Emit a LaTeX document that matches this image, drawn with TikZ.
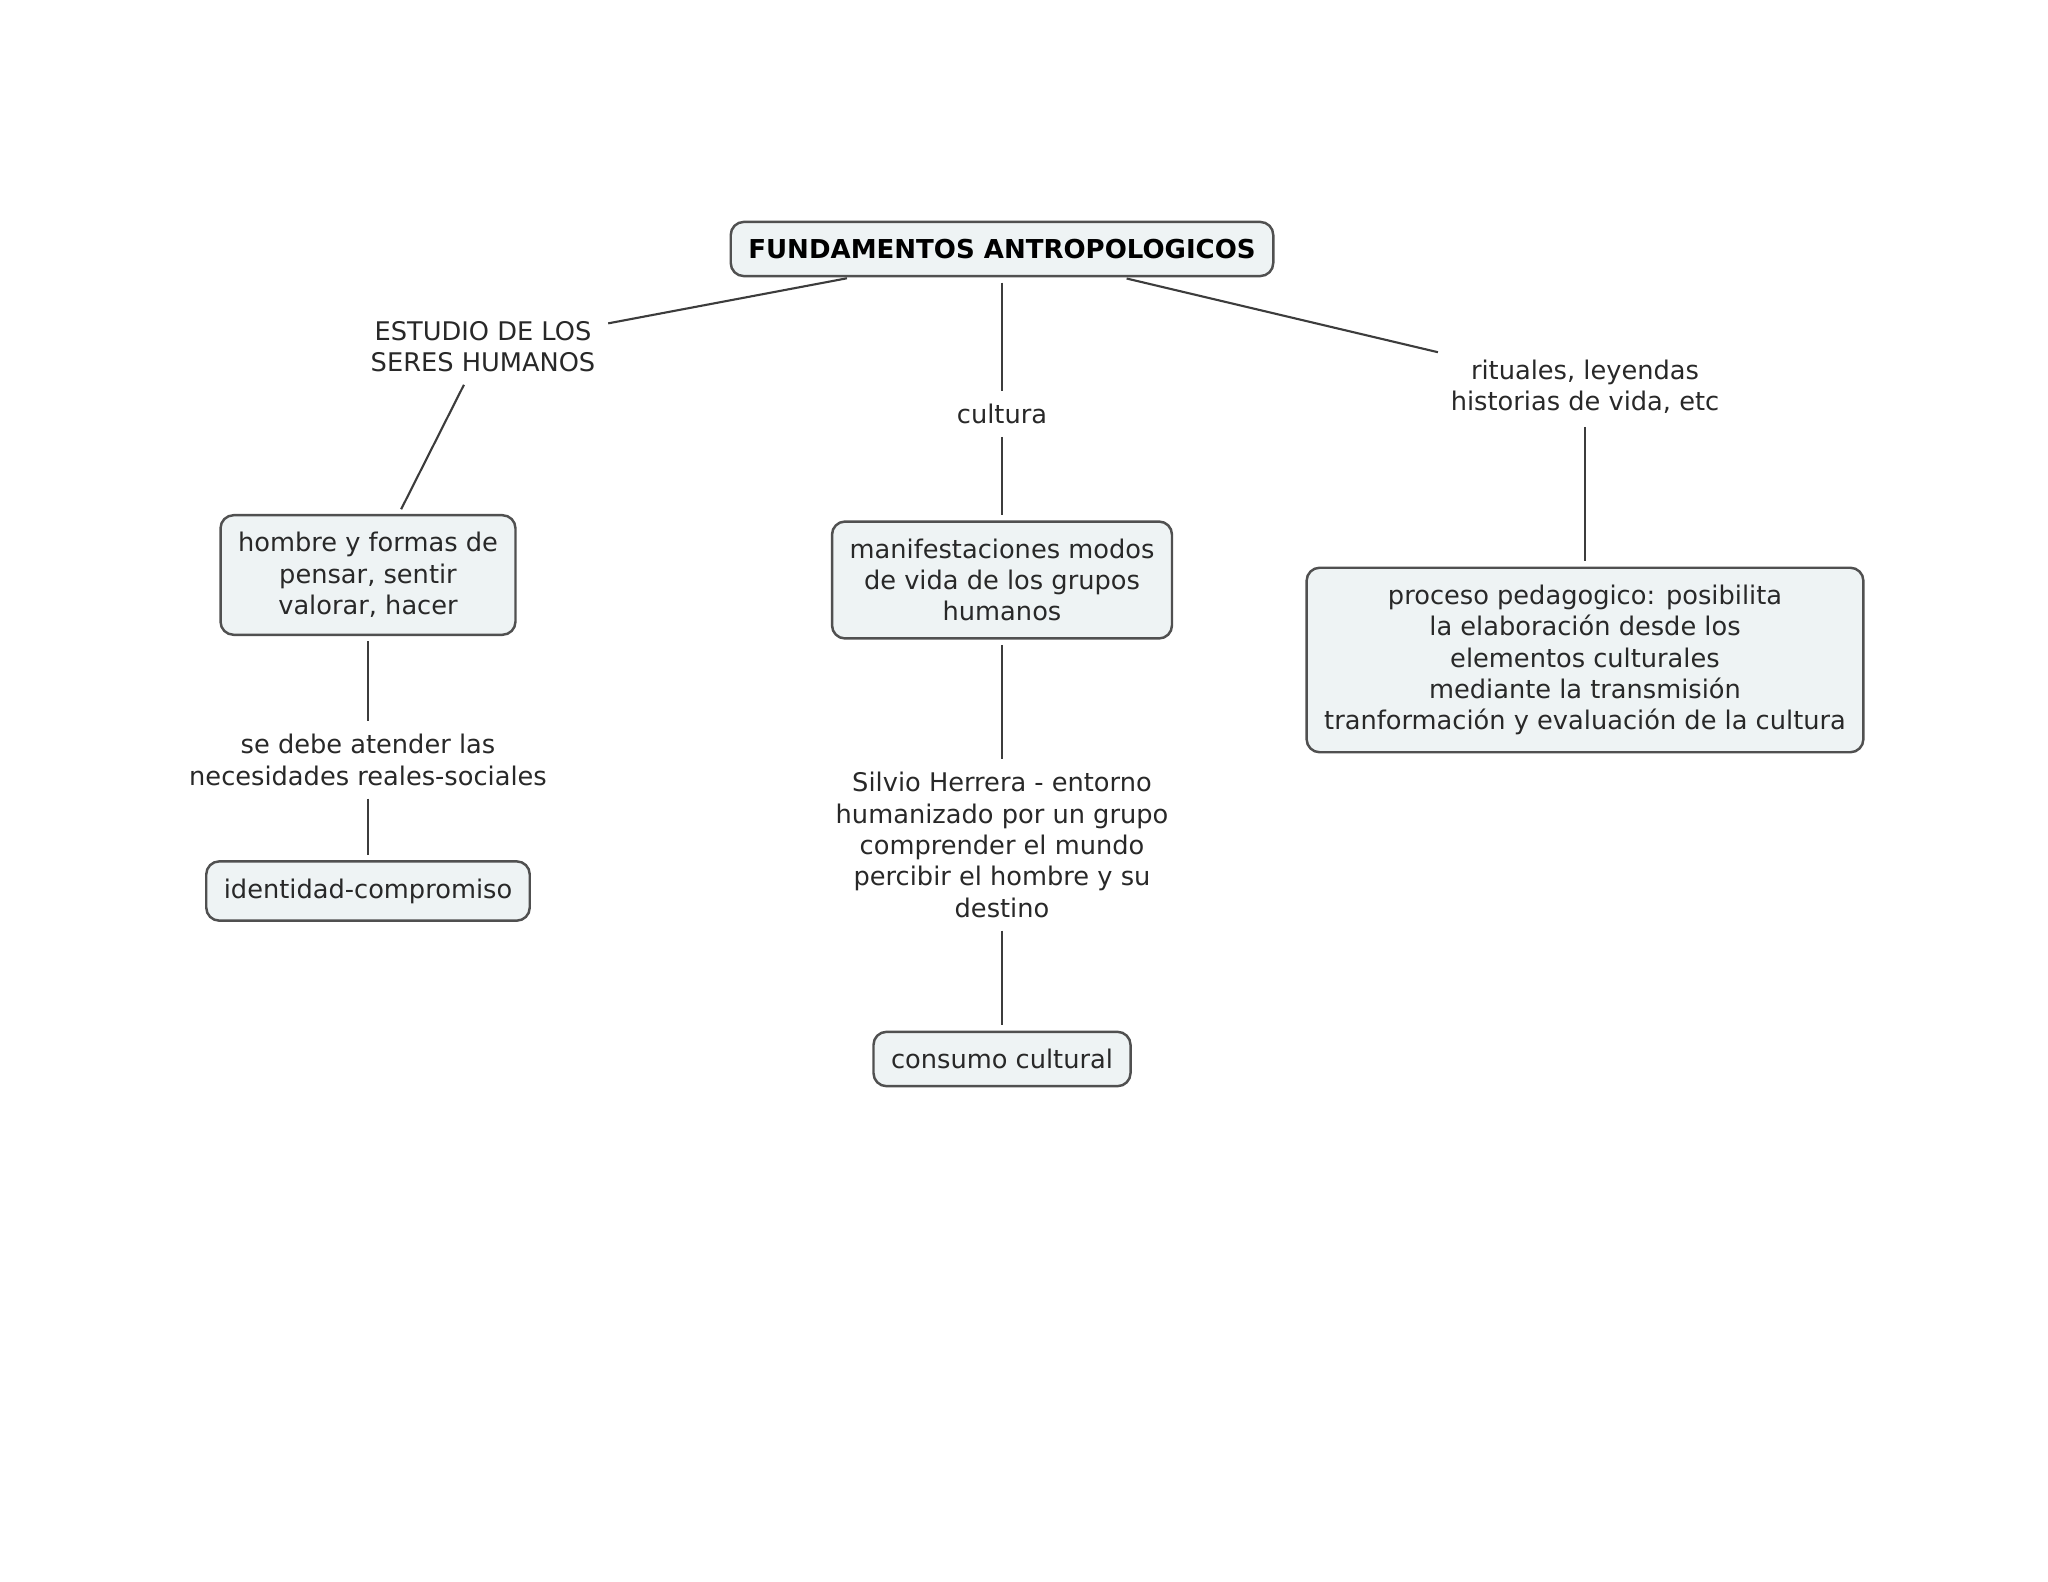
\documentclass[tikz,border=0pt]{standalone}
\usepackage{fontspec}
\setmainfont{DejaVu Sans}
\definecolor{boxfill}{RGB}{238,243,244}
\definecolor{boxline}{RGB}{80,80,80}
\definecolor{linkline}{RGB}{60,60,60}
\definecolor{inkgray}{RGB}{40,40,40}

\tikzstyle{concept}=[draw=boxline,fill=boxfill,line width=0.7pt,rounded corners=3.7pt,align=center,inner xsep=5pt,inner ysep=4.9pt,text=inkgray,font=\fontsize{7.3}{8.9}\selectfont]
\tikzstyle{title}=[concept,font=\fontsize{7.4}{8.9}\selectfont\bfseries,text=black]
\tikzstyle{linking}=[align=center,inner sep=2pt,text=inkgray,font=\fontsize{7.3}{8.9}\selectfont]
\tikzstyle{edge}=[draw=linkline,line width=0.6pt,-,shorten <=1.5pt,shorten >=1.5pt]

\begin{document}
\begin{tikzpicture}[x=0.01cm,y=-0.01cm]
      \useasboundingbox (0,0) rectangle (2048,1582);
      % concepts
      \node[title] (root) at (1002,249) {FUNDAMENTOS ANTROPOLOGICOS};
      \foreach \nodename/\x/\y/\txt in {
        hombre/368/575/{hombre y formas de\\pensar, sentir\\valorar, hacer},
        identidad/368/891/{identidad-compromiso},
        manif/1002/580/{manifestaciones modos\\de vida de los grupos\\humanos},
        consumo/1002/1059/{consumo cultural},
        proceso/1585/660/{proceso pedagogico: posibilita\\la elaboración desde los\\elementos culturales\\mediante la transmisión\\tranformación y evaluación de la cultura}}
      {
        \node[concept] (\nodename) at (\x,\y) {\txt};
      };
      % linking phrases
      \foreach \nodename/\x/\y/\txt in {
        estudio/483/347/{ESTUDIO DE LOS\\SERES HUMANOS},
        atender/368/760/{se debe atender las\\necesidades reales-sociales},
        cultura/1002/414/{cultura},
        silvio/1002/845/{Silvio Herrera - entorno\\humanizado por un grupo\\comprender el mundo\\percibir el hombre y su\\destino},
        rituales/1585/387/{rituales, leyendas\\historias de vida, etc}}
      {
        \node[linking] (\nodename) at (\x,\y) {\txt};
      };
      %edges
      \path
      \foreach \startnode/\endnode in {
        root/estudio, estudio/hombre, hombre/atender, atender/identidad,
        root/cultura, cultura/manif, manif/silvio, silvio/consumo,
        root/rituales, rituales/proceso}
      {
        (\startnode) edge[edge] (\endnode)
      };
    \end{tikzpicture}
\end{document}
